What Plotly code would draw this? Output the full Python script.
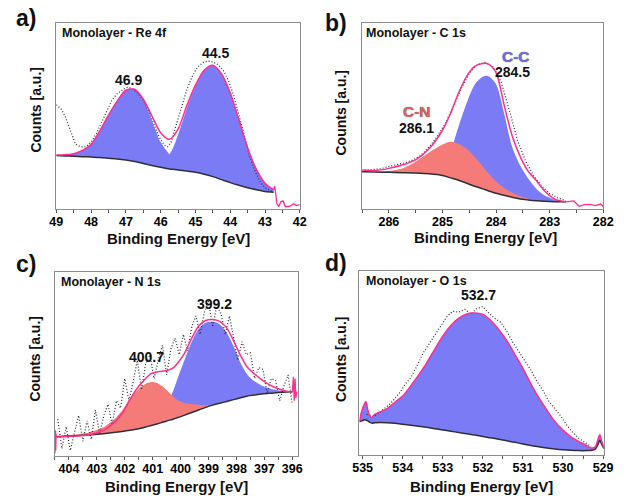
import plotly.graph_objects as go

FONT = "Liberation Sans, Arial, sans-serif"
BLUE = "#7b7bf6"
RED = "#f47b77"
PINK = "#ff2d8e"
BASE = "#2f2f3a"
DOTS = "#2a2a2a"
FRAME = "#8c8c8c"

# ---------------- panel a : Re 4f ----------------
a_energy = [49.0, 48.75, 48.5, 48.25, 48.0, 47.75, 47.5, 47.25, 47.0, 46.75, 46.5, 46.25, 46.0,
            45.75, 45.5, 45.25, 45.0, 44.75, 44.5, 44.25, 44.0, 43.75, 43.5, 43.25, 43.0, 42.75]
a_background = [28.8, 28.6, 28.4, 28.2, 28.0, 27.8, 27.4, 27.0, 26.4, 25.6, 24.6, 23.5, 22.5,
                21.6, 21.1, 20.5, 19.8, 18.8, 17.5, 15.9, 14.3, 12.9, 11.6, 10.5, 9.6, 9.2]
a_peak_469 = [29.1, 29.3, 29.8, 31.5, 34.8, 42.0, 50.5, 58.0, 63.8, 64.3, 59.0, 47.5, 36.0,
              29.5, 25.0, 22.0, 20.3, 19.0, 17.5, 15.9, 14.3, 12.9, 11.6, 10.5, 9.6, 9.2]
a_peak_445 = [28.8, 28.6, 28.4, 28.2, 28.0, 27.8, 27.4, 27.0, 26.4, 25.8, 25.6, 26.0, 27.5,
              29.5, 40.0, 54.0, 66.0, 74.3, 77.2, 72.5, 62.5, 48.0, 33.0, 21.5, 14.0, 10.5]
a_envelope = [29.1, 29.3, 29.8, 31.5, 34.8, 42.0, 50.5, 58.0, 63.8, 64.3, 59.0, 50.0, 41.0,
              37.5, 43.0, 55.5, 66.5, 74.5, 77.2, 72.5, 62.5, 48.0, 33.0, 21.5, 14.0, 10.5]
a_tail_energy = [42.75, 42.72, 42.69, 42.66, 42.6, 42.55, 42.48, 42.42, 42.3, 42.17, 42.1, 42.0]
a_tail_counts = [10.5, 12.5, 8.0, 3.0, 1.5, 4.0, 4.5, 1.5, 1.5, 3.0, 2.0, 2.5]
a_raw_energy = [49.0, 48.85, 48.75, 48.65, 48.55, 48.45, 48.3, 48.15, 48.0, 47.85, 47.7, 47.55,
                47.4, 47.25, 47.1, 46.95, 46.8, 46.65, 46.5, 46.35, 46.2, 46.05, 45.9, 45.8,
                45.7, 45.55, 45.4, 45.25, 45.1, 44.95, 44.8, 44.65, 44.5, 44.35, 44.2, 44.05,
                43.9, 43.75, 43.6, 43.45, 43.3, 43.15, 43.0, 42.85, 42.75]
a_raw_counts = [56.0, 53.5, 50.0, 45.0, 39.0, 35.0, 33.5, 33.5, 36.0, 40.5, 46.5, 53.0,
                58.5, 62.0, 64.0, 65.5, 64.5, 62.0, 58.5, 53.0, 46.0, 39.0, 34.5, 33.5,
                36.0, 45.0, 55.0, 64.0, 71.0, 76.0, 78.5, 79.5, 79.0, 77.5, 74.5, 69.0,
                61.0, 51.0, 40.0, 29.0, 21.0, 15.0, 11.5, 10.0, 9.5]

# ---------------- panel b : C 1s ----------------
b_energy = [286.5, 286.25, 286.0, 285.75, 285.5, 285.25, 285.0, 284.85, 284.7, 284.55, 284.4,
            284.25, 284.15, 284.0, 283.85, 283.7, 283.55, 283.4, 283.25, 283.1, 282.9, 282.7]
b_background = [20.2, 20.0, 19.9, 19.7, 19.5, 19.1, 18.2, 16.9, 15.6, 14.0, 12.4,
                11.0, 10.0, 8.6, 7.5, 6.5, 5.5, 5.0, 4.6, 4.3, 4.1, 4.0]
b_cn = [20.2, 20.2, 20.6, 22.0, 25.6, 30.5, 34.8, 36.3, 35.2, 32.6, 28.3,
        23.2, 19.5, 15.0, 11.5, 9.0, 7.0, 5.8, 4.9, 4.4, 4.1, 4.0]
b_cc = [20.2, 20.0, 19.9, 19.7, 19.6, 19.6, 21.0, 31.0, 44.5, 57.0, 67.0,
        71.2, 71.7, 67.3, 51.5, 33.5, 23.5, 16.5, 11.0, 7.5, 5.0, 4.1]
b_envelope = [21.1, 20.8, 22.0, 23.8, 26.6, 32.5, 42.5, 51.5, 62.5, 71.5, 76.8,
              78.4, 78.2, 73.5, 56.0, 39.5, 28.3, 20.4, 15.5, 10.0, 5.4, 4.0]
b_tail_energy = [282.7, 282.55, 282.45, 282.35, 282.25, 282.15, 282.05, 282.0]
b_tail_counts = [4.0, 4.5, 1.6, 2.5, 2.6, 2.0, 2.8, 1.5]
b_raw_energy = [286.45, 286.3, 286.15, 286.0, 285.85, 285.7, 285.55, 285.4, 285.25, 285.1,
                284.95, 284.8, 284.65, 284.5, 284.35, 284.2, 284.05, 283.9, 283.75, 283.6,
                283.45, 283.3, 283.15, 283.0, 282.85, 282.7]
b_raw_counts = [21.0, 21.4, 21.8, 23.0, 23.8, 25.0, 26.5, 29.0, 33.5, 39.0,
                46.0, 55.0, 65.0, 73.0, 77.8, 79.0, 76.5, 68.0, 53.0, 37.0,
                26.0, 18.0, 12.5, 8.5, 6.2, 4.6]

# ---------------- panel c : N 1s ----------------
c_energy = [404.45, 404.2, 403.9, 403.6, 403.3, 403.0, 402.7, 402.4, 402.1, 401.8, 401.5, 401.25,
            401.05, 400.85, 400.65, 400.45, 400.25, 400.05, 399.85, 399.6, 399.35, 399.1, 398.85,
            398.6, 398.35, 398.1, 397.85, 397.6, 397.35, 397.1, 396.8, 396.5, 396.2, 396.0]
c_background = [10.5, 10.7, 10.9, 11.1, 11.4, 11.8, 12.2, 12.7, 13.3, 14.0, 14.8, 15.7,
                16.6, 17.4, 18.3, 19.2, 20.1, 21.1, 22.2, 23.6, 25.0, 26.4, 27.6,
                28.6, 29.6, 30.6, 31.6, 32.6, 33.1, 33.6, 34.0, 34.4, 34.7, 34.9]
c_peak_4007 = [10.5, 10.9, 11.4, 12.0, 12.7, 14.2, 16.2, 19.5, 24.5, 31.0, 36.5, 39.2,
               40.2, 39.6, 37.8, 35.0, 32.0, 29.8, 28.8, 28.2, 27.8, 27.6, 27.8,
               28.6, 29.6, 30.6, 31.6, 32.6, 33.1, 33.6, 34.0, 34.4, 34.7, 34.9]
c_peak_3992 = [10.5, 10.7, 10.9, 11.1, 11.4, 11.8, 12.2, 12.7, 13.4, 14.3, 15.6, 17.2,
               19.0, 21.5, 25.0, 29.5, 36.0, 44.5, 52.5, 62.0, 69.0, 72.3, 72.8,
               71.5, 67.0, 59.5, 50.5, 44.0, 40.5, 38.3, 36.6, 35.6, 35.0, 34.9]
c_envelope = [10.3, 10.5, 10.7, 11.0, 11.5, 12.6, 14.5, 18.0, 23.0, 31.0, 37.8, 42.0,
              44.8, 45.6, 46.0, 46.6, 48.0, 51.5, 56.0, 64.0, 70.5, 73.5, 74.1,
              73.0, 69.5, 62.5, 54.5, 48.0, 44.5, 41.5, 38.5, 36.5, 35.2, 34.6]
c_edge_left_energy = [404.5, 404.48, 404.47, 404.46, 404.45]
c_edge_left_counts = [1.5, 14.0, 3.0, 12.0, 10.3]
c_edge_right_energy = [396.0, 395.96, 395.93, 395.9, 395.87, 395.84]
c_edge_right_counts = [34.6, 43.0, 30.0, 42.0, 31.5, 35.0]
c_raw_energy = [404.40, 404.25, 404.10, 403.95, 403.80, 403.65, 403.50, 403.35, 403.20, 403.05,
                402.90, 402.75, 402.60, 402.45, 402.30, 402.15, 402.00, 401.85, 401.70, 401.55,
                401.40, 401.25, 401.10, 400.95, 400.80, 400.65, 400.50, 400.35, 400.20, 400.05,
                399.90, 399.75, 399.60, 399.45, 399.30, 399.15, 399.00, 398.85, 398.70, 398.55,
                398.40, 398.25, 398.10, 397.95, 397.80, 397.65, 397.50, 397.35, 397.20, 397.05,
                396.90, 396.75, 396.60, 396.45, 396.30, 396.15, 396.00]
c_raw_counts = [20, 4, 16, 3, 13, 22, 8, 19, 9, 25,
                12, 22, 28, 17, 30, 26, 42, 30, 40, 52,
                36, 50, 55, 42, 52, 60, 44, 58, 64, 55,
                66, 57, 70, 76, 66, 78, 84, 70, 82, 77,
                66, 76, 64, 52, 62, 55, 56, 42, 48, 47,
                34, 42, 41, 30, 38, 44, 28]

# ---------------- panel d : O 1s ----------------
d_energy = [535.08, 535.02, 534.97, 534.92, 534.87, 534.82, 534.77, 534.7, 534.55, 534.4, 534.2,
            534.0, 533.8, 533.6, 533.4, 533.2, 533.0, 532.8, 532.6, 532.4, 532.2, 532.0, 531.8,
            531.6, 531.4, 531.2, 531.0, 530.8, 530.6, 530.4, 530.2, 530.0, 529.8, 529.6, 529.4,
            529.3, 529.2, 529.12, 529.08, 529.04, 528.98]
d_background = [18.1, 18.5, 19.0, 19.0, 18.5, 17.8, 17.3, 17.5, 17.6, 17.5, 17.2,
                16.7, 16.2, 15.6, 15.0, 14.3, 13.6, 12.9, 12.2, 11.5, 10.8, 10.0, 9.3,
                8.5, 7.7, 6.9, 6.0, 5.2, 4.5, 3.8, 3.3, 2.9, 2.6, 2.4, 2.4,
                2.5, 3.0, 6.0, 8.0, 6.0, 3.6]
d_envelope = [18.1, 24.0, 27.0, 29.0, 24.5, 21.0, 20.3, 22.0, 23.5, 25.0, 28.5,
              32.0, 37.5, 43.5, 50.0, 57.5, 64.5, 70.3, 74.3, 76.5, 77.0, 76.3, 73.0,
              68.0, 62.0, 54.5, 47.0, 38.5, 31.0, 24.3, 18.1, 13.5, 9.8, 7.2, 5.0,
              3.8, 4.3, 9.0, 11.0, 8.0, 3.6]
d_raw_energy = [534.9, 534.7, 534.5, 534.3, 534.1, 533.95, 533.8, 533.65, 533.5, 533.35, 533.2,
                533.05, 532.9, 532.75, 532.6, 532.45, 532.3, 532.15, 532.0, 531.85, 531.7,
                531.55, 531.4, 531.25, 531.1, 530.95, 530.8, 530.65, 530.5, 530.35, 530.2,
                530.05, 529.9, 529.75, 529.6, 529.45, 529.3]
d_raw_counts = [22.0, 21.0, 24.5, 28.0, 33.0, 38.0, 42.0, 48.0, 55.0, 60.0, 65.0,
                70.0, 75.0, 78.0, 77.5, 79.0, 76.5, 79.5, 80.5, 77.0, 74.0,
                72.0, 67.0, 61.0, 56.0, 51.0, 46.0, 40.0, 35.0, 29.0, 25.0,
                21.0, 16.0, 12.0, 9.0, 6.5, 4.5]

fig = go.Figure()


def band(xs, lower, upper, color, xa, ya):
    fig.add_trace(go.Scatter(x=xs, y=lower, mode="lines", xaxis=xa, yaxis=ya,
                             line=dict(width=0, shape="spline", smoothing=0.8, color=color),
                             hoverinfo="skip", showlegend=False))
    fig.add_trace(go.Scatter(x=xs, y=upper, mode="lines", xaxis=xa, yaxis=ya, fill="tonexty",
                             fillcolor=color,
                             line=dict(width=0, shape="spline", smoothing=0.8, color=color),
                             hoverinfo="skip", showlegend=False))


def line(xs, ys, color, width, xa, ya, shape="spline", dash=None):
    fig.add_trace(go.Scatter(x=xs, y=ys, mode="lines", xaxis=xa, yaxis=ya,
                             line=dict(width=width, color=color, shape=shape, dash=dash,
                                       smoothing=0.8 if shape == "spline" else None),
                             hoverinfo="skip", showlegend=False))


DOTDASH = "1px,2px"

# panel a
band(a_energy, a_background, a_peak_445, BLUE, "x", "y")
band(a_energy, a_background, a_peak_469, BLUE, "x", "y")
line(a_energy, a_background, BASE, 1.5, "x", "y")
line(a_raw_energy, a_raw_counts, DOTS, 1.2, "x", "y", shape="linear", dash=DOTDASH)
line(a_energy, a_envelope, PINK, 1.5, "x", "y")
line(a_tail_energy, a_tail_counts, PINK, 1.3, "x", "y", shape="linear")

# panel b
band(b_energy, b_background, b_cc, BLUE, "x2", "y2")
band(b_energy, b_background, b_cn, RED, "x2", "y2")
line(b_energy, b_background, BASE, 1.5, "x2", "y2")
line(b_raw_energy, b_raw_counts, DOTS, 1.2, "x2", "y2", shape="linear", dash=DOTDASH)
line(b_energy, b_envelope, PINK, 1.5, "x2", "y2")
line(b_tail_energy, b_tail_counts, PINK, 1.3, "x2", "y2", shape="linear")

# panel c
band(c_energy, c_background, c_peak_3992, BLUE, "x3", "y3")
band(c_energy, c_background, c_peak_4007, RED, "x3", "y3")
line(c_energy, c_background, BASE, 1.5, "x3", "y3")
line(c_raw_energy, c_raw_counts, DOTS, 1.2, "x3", "y3", shape="linear", dash=DOTDASH)
line(c_energy, c_envelope, PINK, 1.5, "x3", "y3")
line(c_edge_left_energy, c_edge_left_counts, PINK, 1.3, "x3", "y3", shape="linear")
line(c_edge_right_energy, c_edge_right_counts, PINK, 1.3, "x3", "y3", shape="linear")

# panel d
band(d_energy, d_background, d_envelope, BLUE, "x4", "y4")
line(d_energy, d_background, BASE, 1.5, "x4", "y4")
line(d_raw_energy, d_raw_counts, DOTS, 1.2, "x4", "y4", shape="linear", dash=DOTDASH)
line(d_energy, d_envelope, PINK, 1.5, "x4", "y4")

W, H = 624, 496
panels = {
    "": dict(x=(50.7, 301.0), y=(22.7, 209.3), rng=[49.0, 42.0]),
    "2": dict(x=(365.0, 613.0), y=(23.3, 209.3), rng=[286.5, 282.0]),
    "3": dict(x=(49.3, 299.0), y=(271.7, 456.0), rng=[404.5, 395.8]),
    "4": dict(x=(362.3, 614.0), y=(270.7, 455.0), rng=[535.08, 528.97]),
}

layout = dict(width=W, height=H, margin=dict(l=0, r=0, t=0, b=0),
              paper_bgcolor="white", plot_bgcolor="white", showlegend=False)
tickfont = dict(family=FONT, size=12.5, color="#000", weight="bold")
for k, p in panels.items():
    layout["xaxis" + k] = dict(
        domain=[p["x"][0] / W, p["x"][1] / W], range=p["rng"], anchor="y" + k,
        showline=True, mirror=True, linecolor=FRAME, linewidth=1,
        ticks="outside", ticklen=3, tickcolor="#555", tickwidth=1, dtick=1,
        ticklabelstandoff=-2,
        minor=dict(dtick=0.5, ticks="outside", ticklen=3, tickcolor="#555"),
        tickfont=tickfont, showgrid=False, zeroline=False, fixedrange=True)
    layout["yaxis" + k] = dict(
        domain=[1 - p["y"][1] / H, 1 - p["y"][0] / H], range=[0, 100], anchor="x" + k,
        showline=True, mirror=True, linecolor=FRAME, linewidth=1,
        ticks="", showticklabels=False, showgrid=False, zeroline=False, fixedrange=True)
fig.update_layout(**layout)

ann = []


def text(t, x, y, xref, yref, size, color="#111", xanchor="center", yanchor="middle",
         angle=0, shadow=None):
    f = dict(family=FONT, size=size, color=color, weight="bold")
    if shadow:
        f["shadow"] = shadow
    ann.append(dict(text=t, x=x, y=y, xref=xref, yref=yref, showarrow=False, font=f,
                    xanchor=xanchor, yanchor=yanchor, textangle=angle))


# panel letters
for lab, px, py in [("a)", 20, 17.5), ("b)", 338, 22.5), ("c)", 20, 264), ("d)", 338, 263)]:
    text(lab, px / W, 1 - py / H, "paper", "paper", 23)

# titles inside panels
text("Monolayer - Re 4f", 0.017, 0.945, "x domain", "y domain", 12.5, xanchor="left")
text("Monolayer - C 1s", 0.009, 0.946, "x2 domain", "y2 domain", 12.5, xanchor="left")
text("Monolayer - N 1s", 0.016, 0.946, "x3 domain", "y3 domain", 12.5, xanchor="left")
text("Monolayer - O 1s", 0.017, 0.946, "x4 domain", "y4 domain", 12.5, xanchor="left")

# axis titles
for k, xt, xl, yl in [("", (0.5, -0.155), -0.083, 0.535),
                      ("2", (0.51, -0.15), -0.0875, 0.52),
                      ("3", (0.5, -0.167), -0.08, 0.526),
                      ("4", (0.5, -0.172), -0.0755, 0.52)]:
    text("Binding Energy [eV]", xt[0], xt[1], "x%s domain" % k, "y%s domain" % k, 15)
    text("Counts [a.u.]", xl, yl, "x%s domain" % k, "y%s domain" % k, 14, angle=-90)

# peak labels
text("46.9", 46.92, 69.3, "x", "y", 14)
text("44.5", 44.41, 83.8, "x", "y", 14)
text("C-C", 283.63, 82.4, "x2", "y2", 15.5, color="#7070e0", shadow="0px 0px 1px #333")
text("284.5", 283.69, 74.0, "x2", "y2", 14)
text("C-N", 285.48, 52.5, "x2", "y2", 15.5, color="#e06262", shadow="0px 0px 1px #333")
text("286.1", 285.48, 43.5, "x2", "y2", 14)
text("400.7", 401.22, 53.9, "x3", "y3", 14)
text("399.2", 398.78, 82.4, "x3", "y3", 14)
text("532.7", 532.1, 86.8, "x4", "y4", 14)

fig.update_layout(annotations=ann)
fig.write_html("out.html", config={"displayModeBar": False},
               post_script="document.body.style.margin='0px';")
